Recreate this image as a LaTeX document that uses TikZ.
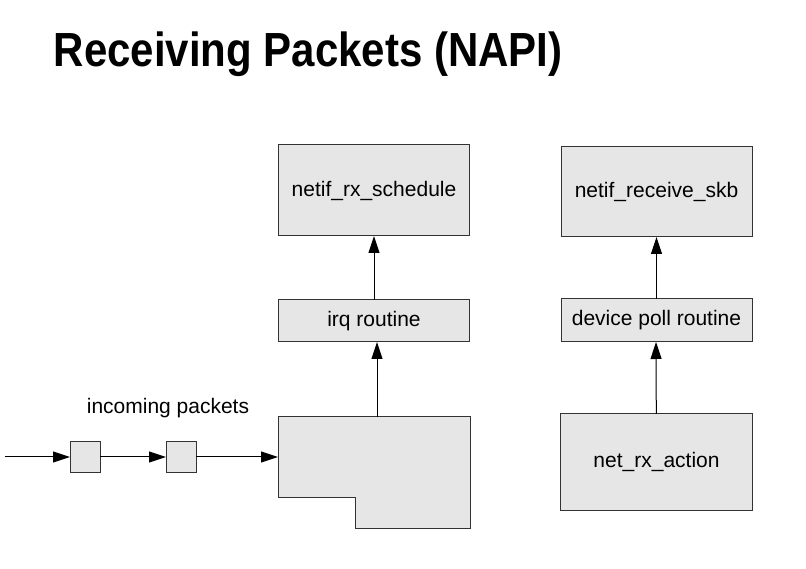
\documentclass[tikz,border=0pt]{standalone}
\usepackage{fontspec}
\setmainfont{Liberation Sans}
\usetikzlibrary{arrows.meta,positioning}

\definecolor{boxfill}{HTML}{E6E6E6}
\definecolor{boxline}{HTML}{333333}

\begin{document}
\begin{tikzpicture}[->,>={Triangle[length=17pt,width=11pt]},x=1pt,y=1pt,
  line width=1pt,
  main node/.style={rectangle,fill=boxfill,draw=boxline,outer sep=0pt,
    minimum width=191pt,font=\fontsize{21}{25}\selectfont},
  big node/.style={main node,minimum height=91pt},
  thin node/.style={main node,minimum height=42pt},
  pkt node/.style={rectangle,fill=boxfill,draw=boxline,outer sep=0pt,
    minimum width=30pt,minimum height=31pt}]

  \useasboundingbox (0,0) rectangle (806,568);

  \node[anchor=base west,font=\fontsize{42}{50}\selectfont\bfseries] (title)
    at (50,501) {\scalebox{1}[1.14]{Receiving Packets (NAPI)}};

  \node[thin node] (irq) at (374,247) {irq routine};
  \node[big node] (sched) [above=64pt of irq] {netif\_rx\_schedule};
  \node[minimum width=192pt,minimum height=80pt,outer sep=0pt] (nic)
    [below=75pt of irq] {};

  \node[thin node,minimum height=43pt] (poll) at (656.5,247.5) {device poll routine};
  \node[big node,minimum height=90pt] (skb) [above=62pt of poll] {netif\_receive\_skb};
  \node[big node,minimum width=192pt,minimum height=96pt] (action)
    [below=72pt of poll] {net\_rx\_action};

  \node[pkt node] (pkt2) [left=82pt of nic] {};
  \node[pkt node] (pkt1) [left=66pt of pkt2] {};
  \coordinate[left=65pt of pkt1] (wire);
  \node[font=\fontsize{21}{25}\selectfont] (label) at (168,160) {incoming packets};

  % network card outline
  \draw[-,fill=boxfill,draw=boxline] (nic.north west) -- (nic.north east)
    -- ([yshift=-31pt]nic.south east) -- ([xshift=77pt,yshift=-31pt]nic.south west)
    -- ([xshift=77pt]nic.south west) -- (nic.south west) -- cycle;

  \path
    (wire) edge (pkt1)
    (pkt1) edge (pkt2)
    (pkt2) edge (nic)
    ([xshift=3pt]nic.north) edge ([xshift=3pt]irq.south)
    (irq) edge (sched)
    (action) edge ([xshift=-0.5pt]poll.south)
    (poll) edge (skb)
    ;

\end{tikzpicture}
\end{document}
